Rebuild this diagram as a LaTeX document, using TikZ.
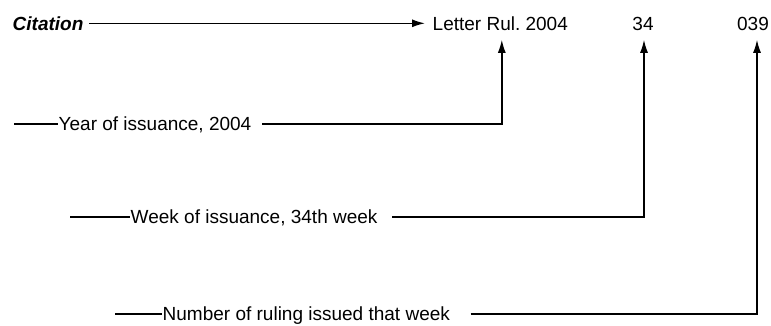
\documentclass[tikz,border=0pt]{standalone}
\usepackage{fontspec}
\setmainfont{Liberation Sans}
\usetikzlibrary{arrows.meta}
\frenchspacing

\begin{document}
\begin{tikzpicture}[x=1pt, y=1pt, line width=1.4pt,
    every node/.style={font=\fontsize{19}{22}\selectfont, inner sep=0pt, text height=13.6pt, text depth=0pt, anchor=west},
    arr/.style={-{Latex[length=13pt, width=8pt]}}]
      \useasboundingbox (0,0) rectangle (771,-325);

      % Citation - top row
      \node (cite) at (12,-23.3) {\textbf{\textit{Citation}}};
      \node (ltr) at (432,-23.3) {Letter Rul. 2004};
      \node (wk) [anchor=center] at (643,-23.3) {34};
      \node (num) [anchor=center] at (753,-23.3) {039};
      \draw[arr] ([xshift=5pt]cite.east) -- ([xshift=-7pt]ltr.west);

      % Year of issuance
      \node (year) at (58,-124) {Year of issuance, 2004};
      \draw ([xshift=-44pt]year.west) -- (year.west);
      \draw[arr] ([xshift=10pt]year.east) -| ([xshift=1.5pt, yshift=-9pt]ltr.south);

      % Week of issuance
      \node (week) at (130,-217) {Week of issuance, 34th week};
      \draw ([xshift=-60pt]week.west) -- (week.west);
      \draw[arr] ([xshift=14pt]week.east) -| ([xshift=1pt, yshift=-9pt]wk.south);

      % Number of ruling
      \node (ruling) at (162,-314) {Number of ruling issued that week};
      \draw ([xshift=-47pt]ruling.west) -- (ruling.west);
      \draw[arr] ([xshift=20pt]ruling.east) -| ([xshift=4pt, yshift=-9pt]num.south);

    \end{tikzpicture}
\end{document}
